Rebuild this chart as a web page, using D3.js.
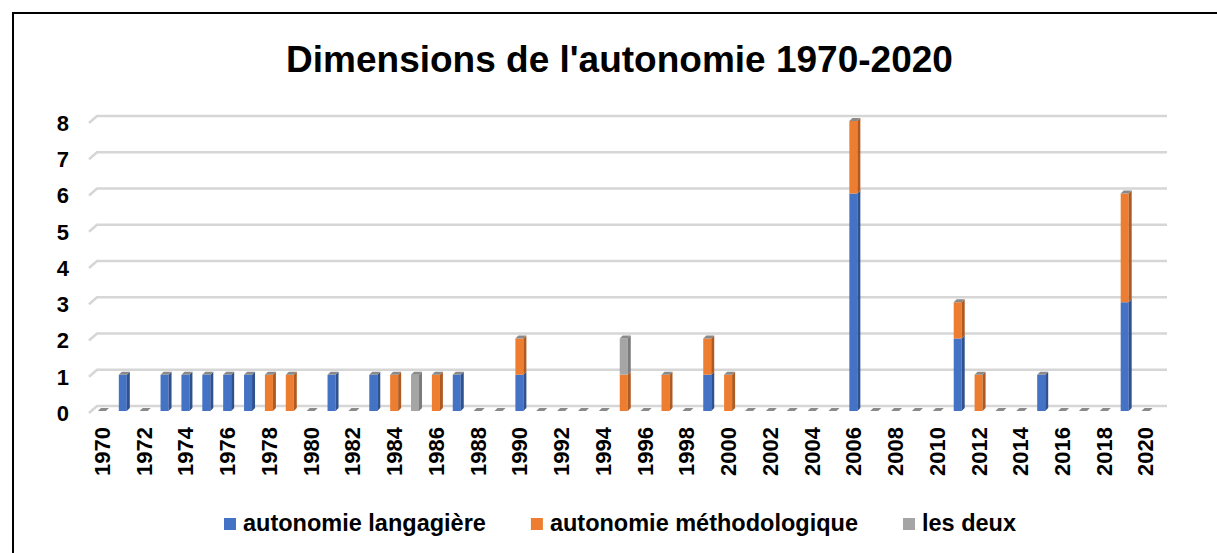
<!DOCTYPE html>
<html>
<head>
<meta charset="utf-8">
<style>
  body { margin: 0; background: #fff; }
  svg { font-family: "Liberation Sans", Arial, sans-serif; font-weight: bold; }
  .grid { stroke: #d6d6d6; stroke-width: 2.5; fill: none; }
</style>
</head>
<body>
<div id="chart"></div>
<script src="https://cdn.jsdelivr.net/npm/d3@7"></script>
<script>
const years = [1970, 1971, 1972, 1973, 1974, 1975, 1976, 1977, 1978, 1979,
  1980, 1981, 1982, 1983, 1984, 1985, 1986, 1987, 1988, 1989,
  1990, 1991, 1992, 1993, 1994, 1995, 1996, 1997, 1998, 1999,
  2000, 2001, 2002, 2003, 2004, 2005, 2006, 2007, 2008, 2009,
  2010, 2011, 2012, 2013, 2014, 2015, 2016, 2017, 2018, 2019, 2020];

const langagiere = [0, 1, 0, 1, 1, 1, 1, 1, 0, 0,
  0, 1, 0, 1, 0, 0, 0, 1, 0, 0,
  1, 0, 0, 0, 0, 0, 0, 0, 0, 1,
  0, 0, 0, 0, 0, 0, 6, 0, 0, 0,
  0, 2, 0, 0, 0, 1, 0, 0, 0, 3, 0];

const methodologique = [0, 0, 0, 0, 0, 0, 0, 0, 1, 1,
  0, 0, 0, 0, 1, 0, 1, 0, 0, 0,
  1, 0, 0, 0, 0, 1, 0, 1, 0, 1,
  1, 0, 0, 0, 0, 0, 2, 0, 0, 0,
  0, 1, 1, 0, 0, 0, 0, 0, 0, 3, 0];

const lesDeux = [0, 0, 0, 0, 0, 0, 0, 0, 0, 0,
  0, 0, 0, 0, 0, 1, 0, 0, 0, 0,
  0, 0, 0, 0, 0, 1, 0, 0, 0, 0,
  0, 0, 0, 0, 0, 0, 0, 0, 0, 0,
  0, 0, 0, 0, 0, 0, 0, 0, 0, 0, 0];

const seriesNames = ['autonomie langagière', 'autonomie méthodologique', 'les deux'];
const yTicks = [0, 1, 2, 3, 4, 5, 6, 7, 8];
const xTickLabels = [1970, 1972, 1974, 1976, 1978, 1980, 1982, 1984, 1986, 1988, 1990,
  1992, 1994, 1996, 1998, 2000, 2002, 2004, 2006, 2008, 2010,
  2012, 2014, 2016, 2018, 2020];

const colors = ['#4472C4', '#ED7D31', '#A5A5A5'];
const sideColors = ['#2F528F', '#AE5A21', '#7B7B7B'];

const width = 1217, height = 553;
const depth = 3;      // 3d offset of side/top faces

const svg = d3.select('#chart').append('svg')
  .attr('width', width)
  .attr('height', height);

// outer frame
svg.append('rect')
  .attr('x', 13).attr('y', 13)
  .attr('width', 1260).attr('height', 600)
  .attr('fill', 'none').attr('stroke', '#000').attr('stroke-width', 2);

svg.append('text')
  .attr('x', 619.5).attr('y', 72)
  .attr('text-anchor', 'middle')
  .style('font-size', '37px')
  .text("Dimensions de l'autonomie 1970-2020");

const x = d3.scaleBand().domain(years).range([92.5, 1157]).padding(0);
const y = d3.scaleLinear().domain([0, 8]).range([411, 121]);

// gridlines on back wall with the slanted floor edge
const grid = svg.append('g');
yTicks.forEach(t => {
  const yy = y(t);
  grid.append('path')
    .attr('class', 'grid')
    .attr('d', `M89,${yy + 2}L97,${yy - 5}L1167,${yy - 5}`);
});

// y labels
svg.append('g').selectAll('text')
  .data(yTicks).enter().append('text')
  .attr('x', 69)
  .attr('y', d => y(d) + 2)
  .attr('dy', '0.36em')
  .attr('text-anchor', 'end')
  .style('font-size', '22px')
  .text(d => d);

// x labels, rotated
svg.append('g').selectAll('text')
  .data(xTickLabels).enter().append('text')
  .attr('transform', d => `translate(${x(d) + x.bandwidth() / 2 - 1},427) rotate(-90)`)
  .attr('dy', '0.36em')
  .attr('text-anchor', 'end')
  .style('font-size', '22px')
  .text(d => d);

// stacked data
const rows = years.map((yr, i) => ({
  year: yr, s0: langagiere[i], s1: methodologique[i], s2: lesDeux[i]
}));
const stack = d3.stack().keys(['s0', 's1', 's2'])(rows);

const bars = svg.append('g');
const left = d => x(d.data.year) + x.bandwidth() / 2 - 5;
const bw = 8;

stack.forEach((layer, k) => {
  const g = bars.append('g');
  const segs = layer.filter(d => d[1] > d[0]);
  // front face
  g.selectAll('rect').data(segs).enter().append('rect')
    .attr('x', left)
    .attr('y', d => y(d[1]))
    .attr('width', bw)
    .attr('height', d => y(d[0]) - y(d[1]))
    .attr('fill', colors[k]);
  // side face
  g.selectAll('path.side').data(segs).enter().append('path')
    .attr('class', 'side')
    .attr('d', d => {
      const x1 = left(d) + bw, y0 = y(d[0]), y1 = y(d[1]);
      return `M${x1},${y1}L${x1 + depth},${y1 - depth}L${x1 + depth},${y0 - depth}L${x1},${y0}Z`;
    })
    .attr('fill', sideColors[k]);
});

// top faces of each stack (also the flat dash for empty years)
bars.append('g').selectAll('path')
  .data(rows).enter().append('path')
  .attr('d', d => {
    const x0 = x(d.year) + x.bandwidth() / 2 - 5;
    const yt = y(d.s0 + d.s1 + d.s2);
    return `M${x0},${yt}L${x0 + depth},${yt - depth}L${x0 + bw + depth},${yt - depth}L${x0 + bw},${yt}Z`;
  })
  .attr('fill', '#8a8a8a');

// legend
const legend = svg.append('g');
let lx = 224;
seriesNames.forEach((name, k) => {
  legend.append('rect')
    .attr('x', lx).attr('y', 518)
    .attr('width', 12).attr('height', 12)
    .attr('fill', colors[k]);
  const t = legend.append('text')
    .attr('x', lx + 19).attr('y', 531)
    .style('font-size', '23.5px')
    .text(name);
  lx = lx + 19 + t.node().getComputedTextLength() + 45;
});
</script>
</body>
</html>
